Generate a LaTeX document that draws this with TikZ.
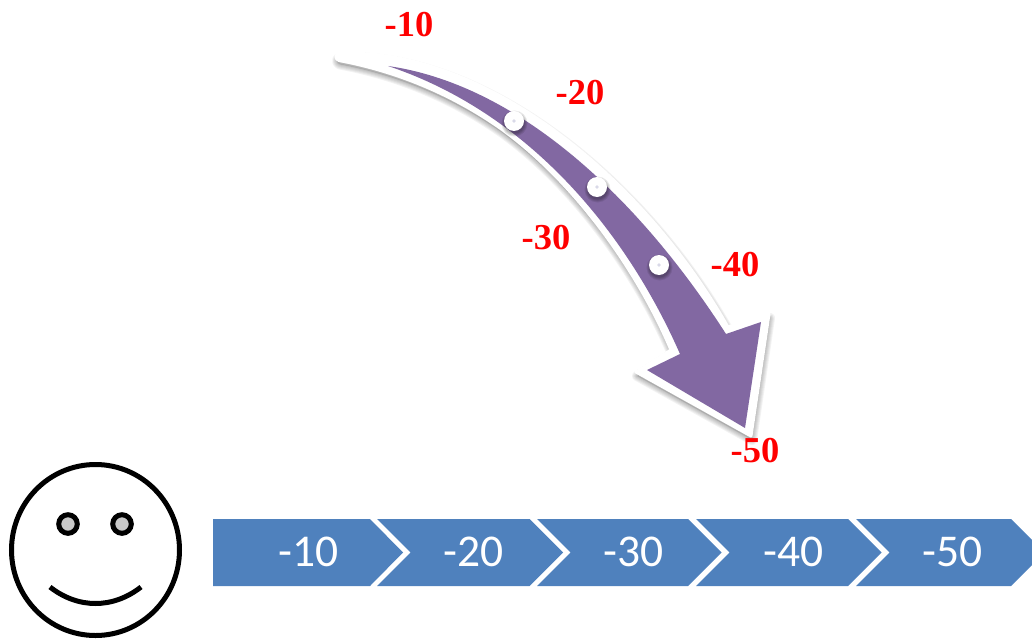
\documentclass[tikz,border=0pt]{standalone}
\usepackage{fontspec}
\setmainfont{Liberation Serif}
\newfontfamily\calfont{Carlito}
\definecolor{arrowpurple}{HTML}{8268A2}
\definecolor{chevblue}{HTML}{4F81BD}
\definecolor{eyegray}{HTML}{C8C8C8}
\definecolor{dotcore}{HTML}{D9D9E8}
\newcommand{\whitearrow}{(339,53.5) .. controls (480,47) and (640,172) .. (728,327) -- (769,314) -- (751,436) -- (636,372) -- (671,350) .. controls (635,265) and (570,178) .. (500,128) .. controls (450,93) and (395,71) .. (339,60.5) .. controls (335,59.5) and (335,54) .. (339,53.5) -- cycle}
\newcommand{\purplearrow}{(388,66) .. controls (520,85) and (640,200) .. (726,334) -- (761,322) -- (745,428) -- (647,370) -- (680,354) .. controls (630,240) and (535,115) .. (388,66) -- cycle}
\tikzset{
  redlabel/.style={text=red,inner sep=0pt,font=\bfseries\fontsize{36.5}{40}\selectfont},
  chevlabel/.style={text=white,inner sep=0pt,font=\calfont\fontsize{45.5}{48}\selectfont},
  chevshape/.style={fill=chevblue,draw=none},
  softshadow/.style={draw=black,fill=none,opacity=0.05,line join=round,line width=#1},
  facestroke/.style={draw=black,line width=5pt,line cap=butt},
}
\begin{document}
\begin{tikzpicture}[x=1pt,y=-1pt]
\useasboundingbox (0,0) rectangle (1032,639);
\clip (0,0) rectangle (1032,639);
% arrow shadow
\begin{scope}[shift={(1,4)}]
  \foreach \w in {10,8,6,4,2} {\draw[softshadow=\w pt] \whitearrow;}
  \fill[black,opacity=0.12] \whitearrow;
\end{scope}
% arrow
\draw[fill=white,draw=white,line width=3pt,line join=round] \whitearrow;
\fill[arrowpurple] \purplearrow;
% dots
\foreach \n/\x/\y in {d1/514/121,d2/597/187,d3/659/265} {
  \foreach \r in {13,12,11,10} {\fill[black,opacity=0.09] (\x+0.5,\y+2.5) circle (\r);}
  \fill[white] (\x,\y) circle (10);
  \fill[dotcore] (\x,\y) circle (1.8);
}
% labels
\node[redlabel] (r10) at (409,25) {-10};
\node[redlabel] (r20) at (580,93) {-20};
\node[redlabel] (r30) at (546,238) {-30};
\node[redlabel] (r40) at (735,265) {-40};
\node[redlabel] (r50) at (755,451) {-50};
% chevrons
\fill[chevshape] (213,519) -- (370,519) -- (403,552.5) -- (370,586) -- (213,586) -- cycle;
\foreach \a/\b in {377/529.5,537/688,696/848,856/1011} {
  \fill[chevshape] (\a,519) -- (\b,519) -- (\b+33.5,552.5) -- (\b,586) -- (\a,586) -- (\a+33.5,552.5) -- cycle;
}
\node[chevlabel] (c1) at (309,552) {-10};
\node[chevlabel] (c2) at (474,552) {-20};
\node[chevlabel] (c3) at (634,552) {-30};
\node[chevlabel] (c4) at (794,552) {-40};
\node[chevlabel] (c5) at (953,552) {-50};
% face
\draw[facestroke,fill=white] (95.5,550) ellipse [x radius=84,y radius=85.5];
\draw[facestroke,fill=eyegray] (68,524) circle (9.3);
\draw[facestroke,fill=eyegray] (122,524) circle (9.3);
\draw[facestroke] (50,587) .. controls (78,609) and (113,609) .. (141,587);
\end{tikzpicture}
\end{document}
